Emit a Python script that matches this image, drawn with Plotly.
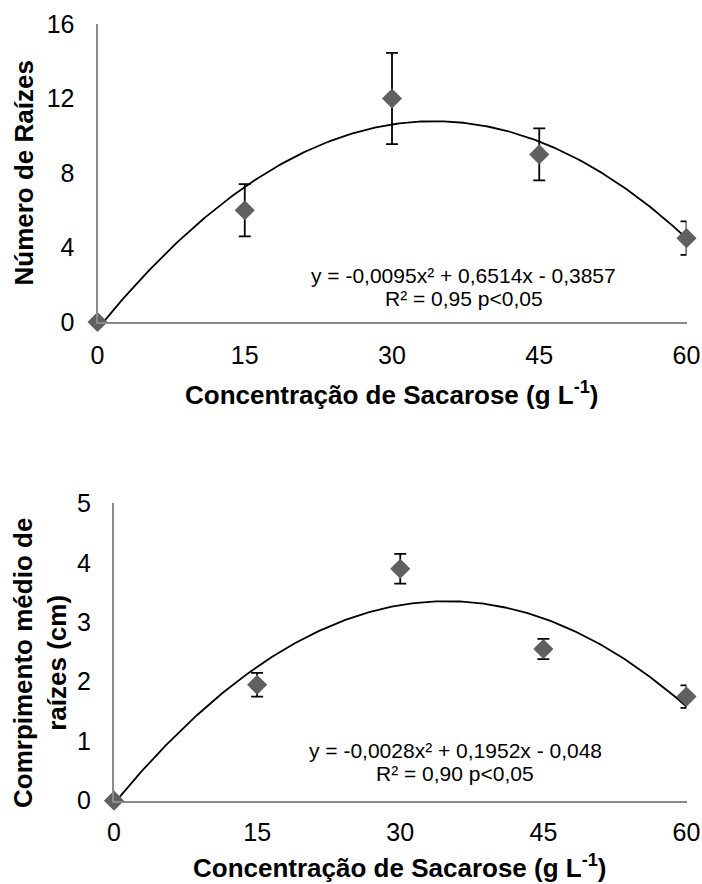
import plotly.graph_objects as go
import numpy as np

# ---- data ----
conc = [0, 15, 30, 45, 60]
n_raizes = [0, 6.0, 12.0, 9.0, 4.5]
n_raizes_err = [0, 1.4, 2.45, 1.4, 0.9]
comp = [0, 1.95, 3.9, 2.55, 1.75]
comp_err = [0, 0.2, 0.25, 0.17, 0.19]

# trendline coefficients shown on chart (a x^2 + b x + c)
coef_top = [-0.0095, 0.6514, -0.3857]
coef_bot = [-0.0028, 0.1952, -0.048]

x_ticks = [0, 15, 30, 45, 60]
y_ticks_top = [0, 4, 8, 12, 16]
y_ticks_bot = [0, 1, 2, 3, 4, 5]

eq_top = ["y = -0,0095x² + 0,6514x - 0,3857", "R² = 0,95 p<0,05"]
eq_bot = ["y = -0,0028x² + 0,1952x - 0,048", "R² = 0,90 p<0,05"]
xtitle = "Concentração de Sacarose (g L<sup>-1</sup>)"
ytitle_top = "Número de Raízes"
ytitle_bot = "Comrpimento médio de<br>raízes (cm)"

W, H = 702, 884
FONT = "Liberation Sans, Arial, sans-serif"
MARK = "#606060"
AXC = "#8a8a8a"

xt = np.linspace(0, 60, 241)

def trend(c):
    return c[0] * xt**2 + c[1] * xt + c[2]

fig = go.Figure()

for (xa, ya, yv, ye, coef) in [("x", "y", n_raizes, n_raizes_err, coef_top),
                                ("x2", "y2", comp, comp_err, coef_bot)]:
    fig.add_trace(go.Scatter(x=xt, y=trend(coef), mode="lines",
                             line=dict(color="black", width=1.8),
                             xaxis=xa, yaxis=ya, showlegend=False, hoverinfo="skip"))
    fig.add_trace(go.Scatter(x=conc, y=yv, mode="markers",
                             marker=dict(symbol="diamond", size=15.5, color=MARK,
                                         line=dict(width=0)),
                             error_y=dict(type="data", array=ye, visible=True,
                                          color="black", thickness=1.8, width=6),
                             cliponaxis=False,
                             xaxis=xa, yaxis=ya, showlegend=False))

def px_x(p):
    return p / W

def px_y(p):
    return 1 - p / H

axis_common = dict(showgrid=False, zeroline=False, showline=True, linecolor=AXC,
                   linewidth=2, ticks="", automargin=False,
                   tickfont=dict(family=FONT, size=25, color="black"))

fig.update_layout(
    width=W, height=H,
    margin=dict(l=0, r=0, t=0, b=0),
    paper_bgcolor="white", plot_bgcolor="white",
    xaxis=dict(domain=[px_x(97.5), px_x(686.5)], range=[0, 60], anchor="y",
               tickvals=x_ticks, ticktext=[str(v) for v in x_ticks],
               ticklabelstandoff=10, **axis_common),
    yaxis=dict(domain=[px_y(322), px_y(24)], range=[0, 16], anchor="x",
               tickvals=y_ticks_top, ticktext=[str(v) for v in y_ticks_top],
               ticklabelstandoff=16, **axis_common),
    xaxis2=dict(domain=[px_x(114), px_x(686.5)], range=[0, 60], anchor="y2",
                tickvals=x_ticks, ticktext=[str(v) for v in x_ticks],
                ticklabelstandoff=8, **axis_common),
    yaxis2=dict(domain=[px_y(800.7), px_y(503.3)], range=[0, 5], anchor="x2",
                tickvals=y_ticks_bot, ticktext=[str(v) for v in y_ticks_bot],
                ticklabelstandoff=16, **axis_common),
)

ann = []
title_font = dict(family=FONT, size=26, color="black")
eq_font = dict(family=FONT, size=21, color="black")
# x titles
ann.append(dict(text="<b>" + xtitle + "</b>", x=px_x(392), y=px_y(393), xref="paper", yref="paper",
                showarrow=False, xanchor="center", yanchor="middle", font=title_font))
ann.append(dict(text="<b>" + xtitle + "</b>", x=px_x(400), y=px_y(866), xref="paper", yref="paper",
                showarrow=False, xanchor="center", yanchor="middle", font=title_font))
# y titles
ann.append(dict(text="<b>" + ytitle_top + "</b>", x=px_x(24), y=px_y(173.5), xref="paper", yref="paper",
                showarrow=False, xanchor="center", yanchor="middle", textangle=-90, font=title_font))
ann.append(dict(text="<b>" + ytitle_bot + "</b>", x=px_x(40), y=px_y(663), xref="paper", yref="paper",
                showarrow=False, xanchor="center", yanchor="middle", textangle=-90, font=title_font))
# equations
for txt, yy in zip(eq_top, [275, 298]):
    ann.append(dict(text=txt, x=px_x(464), y=px_y(yy), xref="paper", yref="paper",
                    showarrow=False, xanchor="center", yanchor="middle", font=eq_font))
for txt, yy in zip(eq_bot, [750, 773]):
    ann.append(dict(text=txt, x=px_x(455), y=px_y(yy), xref="paper", yref="paper",
                    showarrow=False, xanchor="center", yanchor="middle", font=eq_font))

fig.update_layout(annotations=ann)
fig.write_html("out.html")
